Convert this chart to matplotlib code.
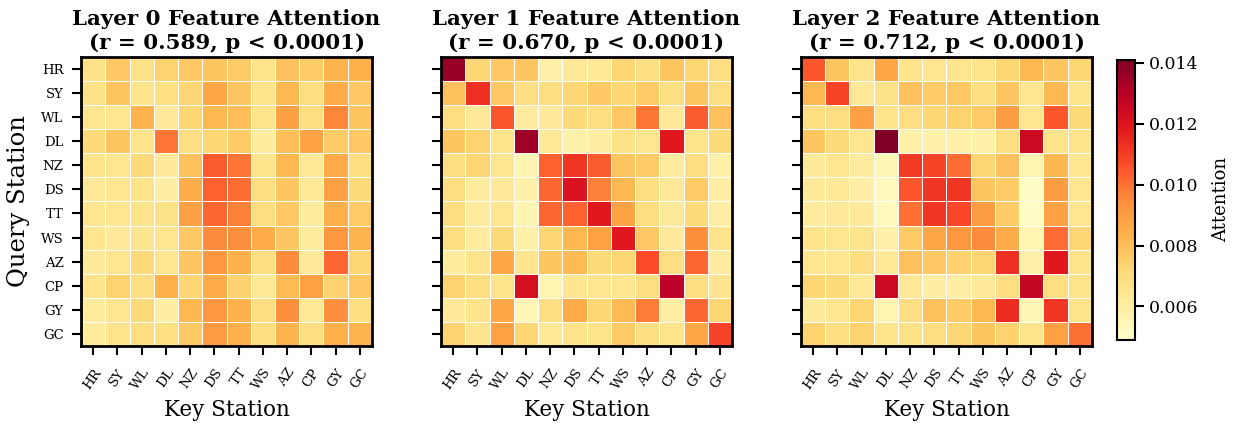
import numpy as np
import matplotlib
matplotlib.use("Agg")
import matplotlib.pyplot as plt

stations = ["HR", "SY", "WL", "DL", "NZ", "DS", "TT", "WS", "AZ", "CP", "GY", "GC"]
r_values = [0.589, 0.670, 0.712]

layer0 = [
    [0.0067, 0.0077, 0.0067, 0.0074, 0.0077, 0.0078, 0.0076, 0.0066, 0.0079, 0.0076, 0.0083, 0.0084],
    [0.0067, 0.0078, 0.0066, 0.0068, 0.0073, 0.0087, 0.0078, 0.0066, 0.0082, 0.0069, 0.0086, 0.0077],
    [0.0065, 0.0065, 0.0083, 0.0062, 0.0073, 0.0082, 0.0080, 0.0066, 0.0089, 0.0069, 0.0096, 0.0078],
    [0.0071, 0.0078, 0.0066, 0.0099, 0.0069, 0.0073, 0.0076, 0.0061, 0.0080, 0.0088, 0.0076, 0.0077],
    [0.0066, 0.0065, 0.0071, 0.0062, 0.0079, 0.0104, 0.0099, 0.0066, 0.0082, 0.0063, 0.0086, 0.0069],
    [0.0063, 0.0065, 0.0066, 0.0060, 0.0085, 0.0103, 0.0101, 0.0069, 0.0078, 0.0063, 0.0089, 0.0071],
    [0.0065, 0.0065, 0.0066, 0.0067, 0.0089, 0.0102, 0.0097, 0.0069, 0.0077, 0.0061, 0.0084, 0.0076],
    [0.0065, 0.0062, 0.0065, 0.0065, 0.0077, 0.0095, 0.0094, 0.0086, 0.0078, 0.0061, 0.0092, 0.0083],
    [0.0062, 0.0065, 0.0071, 0.0065, 0.0078, 0.0092, 0.0084, 0.0069, 0.0095, 0.0062, 0.0102, 0.0073],
    [0.0066, 0.0074, 0.0069, 0.0084, 0.0073, 0.0086, 0.0074, 0.0063, 0.0081, 0.0089, 0.0074, 0.0077],
    [0.0061, 0.0065, 0.0071, 0.0060, 0.0082, 0.0092, 0.0084, 0.0069, 0.0094, 0.0063, 0.0094, 0.0069],
    [0.0061, 0.0066, 0.0069, 0.0068, 0.0077, 0.0091, 0.0084, 0.0069, 0.0083, 0.0069, 0.0084, 0.0083],
]

layer1 = [
    [0.0136, 0.0073, 0.0077, 0.0078, 0.0058, 0.0063, 0.0063, 0.0073, 0.0069, 0.0078, 0.0073, 0.0069],
    [0.0079, 0.0113, 0.0077, 0.0069, 0.0069, 0.0073, 0.0077, 0.0073, 0.0076, 0.0069, 0.0078, 0.0069],
    [0.0069, 0.0063, 0.0105, 0.0061, 0.0062, 0.0071, 0.0069, 0.0077, 0.0099, 0.0063, 0.0104, 0.0079],
    [0.0078, 0.0074, 0.0066, 0.0135, 0.0063, 0.0058, 0.0060, 0.0067, 0.0065, 0.0119, 0.0066, 0.0071],
    [0.0069, 0.0073, 0.0065, 0.0056, 0.0103, 0.0112, 0.0104, 0.0078, 0.0076, 0.0061, 0.0069, 0.0059],
    [0.0069, 0.0061, 0.0062, 0.0058, 0.0102, 0.0121, 0.0097, 0.0082, 0.0069, 0.0063, 0.0076, 0.0060],
    [0.0069, 0.0061, 0.0065, 0.0056, 0.0102, 0.0103, 0.0119, 0.0088, 0.0069, 0.0062, 0.0071, 0.0060],
    [0.0069, 0.0061, 0.0071, 0.0058, 0.0073, 0.0082, 0.0089, 0.0119, 0.0077, 0.0062, 0.0094, 0.0066],
    [0.0061, 0.0066, 0.0087, 0.0065, 0.0078, 0.0081, 0.0071, 0.0073, 0.0107, 0.0069, 0.0102, 0.0061],
    [0.0074, 0.0069, 0.0066, 0.0123, 0.0056, 0.0065, 0.0065, 0.0065, 0.0069, 0.0129, 0.0069, 0.0065],
    [0.0062, 0.0066, 0.0087, 0.0055, 0.0069, 0.0086, 0.0073, 0.0081, 0.0098, 0.0060, 0.0102, 0.0073],
    [0.0074, 0.0065, 0.0089, 0.0073, 0.0063, 0.0066, 0.0066, 0.0076, 0.0069, 0.0066, 0.0087, 0.0109],
]

layer2 = [
    [0.0105, 0.0078, 0.0066, 0.0087, 0.0066, 0.0065, 0.0065, 0.0066, 0.0073, 0.0082, 0.0078, 0.0073],
    [0.0082, 0.0109, 0.0063, 0.0067, 0.0079, 0.0076, 0.0077, 0.0069, 0.0078, 0.0065, 0.0082, 0.0066],
    [0.0069, 0.0069, 0.0089, 0.0066, 0.0069, 0.0073, 0.0074, 0.0076, 0.0090, 0.0065, 0.0105, 0.0071],
    [0.0078, 0.0071, 0.0065, 0.0141, 0.0058, 0.0058, 0.0059, 0.0058, 0.0069, 0.0125, 0.0066, 0.0066],
    [0.0062, 0.0065, 0.0061, 0.0055, 0.0111, 0.0109, 0.0101, 0.0073, 0.0079, 0.0056, 0.0082, 0.0065],
    [0.0062, 0.0063, 0.0060, 0.0053, 0.0105, 0.0112, 0.0112, 0.0078, 0.0076, 0.0051, 0.0090, 0.0065],
    [0.0061, 0.0062, 0.0062, 0.0053, 0.0100, 0.0112, 0.0108, 0.0090, 0.0076, 0.0051, 0.0089, 0.0065],
    [0.0066, 0.0065, 0.0066, 0.0058, 0.0076, 0.0087, 0.0092, 0.0095, 0.0086, 0.0056, 0.0101, 0.0073],
    [0.0065, 0.0065, 0.0069, 0.0063, 0.0079, 0.0077, 0.0074, 0.0073, 0.0113, 0.0058, 0.0119, 0.0066],
    [0.0073, 0.0071, 0.0063, 0.0125, 0.0063, 0.0060, 0.0060, 0.0062, 0.0069, 0.0127, 0.0069, 0.0066],
    [0.0062, 0.0065, 0.0073, 0.0056, 0.0069, 0.0079, 0.0076, 0.0082, 0.0114, 0.0055, 0.0112, 0.0066],
    [0.0074, 0.0069, 0.0074, 0.0066, 0.0067, 0.0069, 0.0073, 0.0078, 0.0074, 0.0066, 0.0089, 0.0100],
]

layers = [np.array(layer0), np.array(layer1), np.array(layer2)]
vmin, vmax = 0.0049, 0.0141

plt.rcParams["font.family"] = "DejaVu Serif"

fig = plt.figure(figsize=(12.33, 4.29), dpi=100)
lefts = [0.0657, 0.3577, 0.6496]
axes = [fig.add_axes([l, 0.1935, 0.236, 0.674]) for l in lefts]

n = len(stations)
for i, (ax, data) in enumerate(zip(axes, layers)):
    mesh = ax.pcolormesh(data, cmap="YlOrRd", vmin=vmin, vmax=vmax,
                         edgecolors="white", linewidth=0.6)
    ax.set_xlim(0, n)
    ax.set_ylim(n, 0)
    ax.set_xticks(np.arange(n) + 0.5)
    ax.set_xticklabels(stations, rotation=55, ha="right",
                       rotation_mode="anchor", fontsize=9.5)
    ax.set_yticks(np.arange(n) + 0.5)
    if i == 0:
        ax.set_yticklabels(stations, fontsize=9.5)
        ax.set_ylabel("Query Station", fontsize=17.5, labelpad=8)
    else:
        ax.set_yticklabels([])
    ax.tick_params(length=6.5, width=1.5, pad=6)
    ax.tick_params(axis="x", pad=8)
    for s in ax.spines.values():
        s.set_linewidth(2)
    ax.set_xlabel("Key Station", fontsize=15.5, labelpad=5)
    ax.set_title(f"Layer {i} Feature Attention\n(r = {r_values[i]:.3f}, p < 0.0001)",
                 fontsize=15.4, fontweight="bold", linespacing=1.2, pad=6)

cax = fig.add_axes([0.906, 0.2075, 0.0146, 0.653])
cbar = fig.colorbar(mesh, cax=cax)
cbar.set_ticks([0.006, 0.008, 0.010, 0.012, 0.014])
cbar.ax.yaxis.set_major_formatter(matplotlib.ticker.FormatStrFormatter("%.3f"))
cbar.ax.tick_params(labelsize=12.5, length=6.5, width=1.5)
cbar.outline.set_linewidth(1.5)
cbar.set_label("Attention", fontsize=13, labelpad=10)

fig.savefig("out.png", dpi=100)
